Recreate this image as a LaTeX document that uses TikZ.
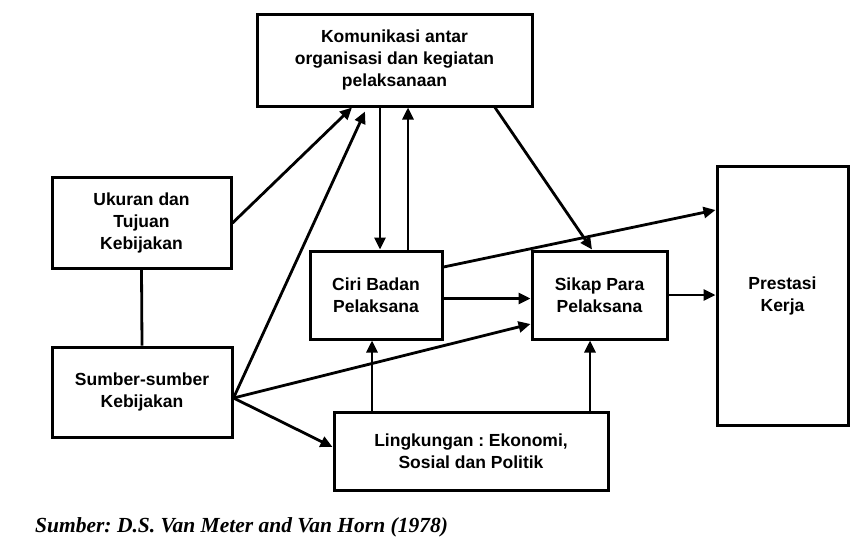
\documentclass[tikz,border=0pt]{standalone}
\usepackage{fontspec}
\setmainfont{Liberation Sans}
\newfontfamily\capfont{Liberation Serif}
\usetikzlibrary{arrows.meta}
\frenchspacing
\begin{document}
\begin{tikzpicture}[x=1pt,y=-1pt,
  box/.style={draw=black,line width=3pt,rectangle,align=center,inner sep=0pt,
    font=\fontsize{17.5}{22}\selectfont\bfseries},
  arr/.style={line width=2.8pt,-{Triangle[length=12pt,width=11pt]}},
  ln/.style={line width=2.8pt}]
\useasboundingbox (0,0) rectangle (867,550);
\node[box,minimum width=275pt,minimum height=92pt] (kom) at (394.5,60) {Komunikasi antar\\organisasi dan kegiatan\\pelaksanaan};
\node[box,minimum width=179pt,minimum height=91pt] (uku) at (141.5,222.5) {Ukuran dan\\Tujuan\\Kebijakan};
\node[box,minimum width=180pt,minimum height=90pt] (sum) at (142,392) {Sumber-sumber\\Kebijakan};
\node[box,minimum width=132pt,minimum height=88pt] (ciri) at (376,295) {Ciri Badan\\Pelaksana};
\node[box,minimum width=135pt,minimum height=88pt] (sikap) at (599.5,295) {Sikap Para\\Pelaksana};
\node[box,minimum width=274pt,minimum height=78pt] (ling) at (471,451) {Lingkungan : Ekonomi,\\Sosial dan Politik};
\node[box,minimum width=131pt,minimum height=259pt] (pres) at (782.5,296) {Prestasi\\Kerja};
\node[anchor=west,inner sep=0pt,font=\capfont\fontsize{21.5}{25}\selectfont\bfseries\itshape] (cap) at (35,527) {Sumber: D.S. Van Meter and Van Horn (1978)};
% connectors
\draw[ln] (uku.south) -- (sum.north);
\draw[arr] ([yshift=-0.5pt]uku.east) -- ([xshift=-42.5pt]kom.south);
\draw[arr] ([yshift=-6pt]sum.east) -- ([xshift=-29.5pt,yshift=-4pt]kom.south);
\draw[arr] ([xshift=-14.5pt]kom.south) -- ([xshift=4pt]ciri.north);
\draw[arr] ([xshift=32pt]ciri.north) -- ([xshift=13.5pt]kom.south);
\draw[arr] ([xshift=100.5pt]kom.south) -- ([xshift=-7.5pt]sikap.north);
\draw[arr] ([yshift=28pt]ciri.east) -- ([yshift=86pt]pres.west);
\draw[arr] ([yshift=-3.5pt]ciri.east) -- ([yshift=-3.5pt]sikap.west);
\draw[arr] ([yshift=-6pt]sum.east) -- ([yshift=-29pt]sikap.west);
\draw[arr] ([yshift=-6pt]sum.east) -- ([yshift=4pt]ling.west);
\draw[arr] ([xshift=-99pt]ling.north) -- ([xshift=-4pt]ciri.south);
\draw[arr] ([xshift=119pt]ling.north) -- ([xshift=-9.5pt]sikap.south);
\draw[arr] (sikap.east) -- (sikap.east -| pres.west);
\end{tikzpicture}
\end{document}
